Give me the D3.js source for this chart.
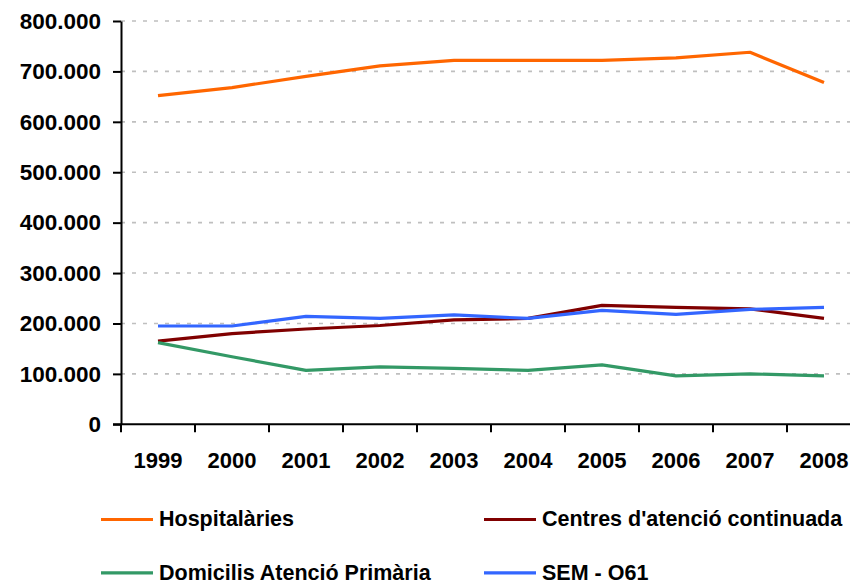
<!DOCTYPE html>
<html>
<head>
<meta charset="utf-8">
<script src="https://cdn.jsdelivr.net/npm/d3@7"></script>
<style>
  html, body { margin: 0; padding: 0; background: #fff; }
  svg { display: block; }
  text { font-family: Arial, "Liberation Sans", sans-serif; font-weight: bold; fill: #000; }
</style>
</head>
<body>
<svg id="chart" width="850" height="584"></svg>
<script>
// ---- Data ----
const years = ["1999","2000","2001","2002","2003","2004","2005","2006","2007","2008"];
const hospitalaries = [652000, 668000, 690000, 711000, 722000, 722000, 722000, 727000, 738000, 678000];
const centres       = [165000, 180000, 189000, 196000, 207000, 210000, 236000, 232000, 229000, 210000];
const domicilis     = [162000, 134000, 107000, 114000, 111000, 107000, 118000, 96000, 100000, 96000];
const sem061        = [195000, 195000, 214000, 210000, 217000, 210000, 226000, 218000, 228000, 232000];
const yTicks = [0, 100000, 200000, 300000, 400000, 500000, 600000, 700000, 800000];

const seriesNames  = ["Hospitalàries", "Centres d'atenció continuada", "Domicilis Atenció Primària", "SEM - O61"];
const seriesValues = [hospitalaries, centres, domicilis, sem061];
const seriesColors = ["#FF6600", "#800000", "#339966", "#3366FF"];

const series = seriesNames.map((name, i) => ({ name, values: seriesValues[i], color: seriesColors[i] }));

// ---- Layout ----
const svg = d3.select("#chart");
const plotLeft = 121, plotRight = 861, plotTop = 21, plotBottom = 424.3;

const x = d3.scaleBand().domain(years).range([plotLeft, plotRight]).padding(0);
const y = d3.scaleLinear().domain([0, 800000]).range([plotBottom, plotTop]);

const locale = d3.formatLocale({ decimal: ",", thousands: ".", grouping: [3], currency: ["", ""] });
const fmt = locale.format(",.0f");

// gridlines
svg.append("g").selectAll("line")
  .data(yTicks.filter(d => d > 0))
  .join("line")
  .attr("x1", plotLeft).attr("x2", 850)
  .attr("y1", d => y(d)).attr("y2", d => y(d))
  .attr("stroke", "#BFBFBF").attr("stroke-width", 1.6)
  .attr("stroke-dasharray", "4,7");

// y axis
const yAxis = svg.append("g")
  .attr("transform", `translate(${plotLeft},0)`)
  .call(d3.axisLeft(y).tickValues(yTicks).tickFormat(fmt).tickSize(8).tickSizeOuter(0).tickPadding(12));
yAxis.select(".domain").attr("stroke", "#000").attr("stroke-width", 2);
yAxis.selectAll(".tick line").attr("stroke", "#000").attr("stroke-width", 2);
yAxis.selectAll(".tick text")
  .attr("font-size", 22.5).attr("font-weight", "bold")
  .attr("font-family", "Arial, 'Liberation Sans', sans-serif")
  .attr("fill", "#000");

// x axis line
svg.append("line")
  .attr("x1", plotLeft - 8).attr("x2", 850)
  .attr("y1", y(0)).attr("y2", y(0))
  .attr("stroke", "#000").attr("stroke-width", 2);

// x ticks at band boundaries
const boundaries = years.map(d => x(d)).concat([x(years[years.length - 1]) + x.bandwidth()]);
svg.append("g").selectAll("line")
  .data(boundaries)
  .join("line")
  .attr("x1", d => d).attr("x2", d => d)
  .attr("y1", y(0)).attr("y2", y(0) + 8)
  .attr("stroke", "#000").attr("stroke-width", 2);

// x labels
svg.append("g").selectAll("text")
  .data(years)
  .join("text")
  .attr("x", d => x(d) + x.bandwidth() / 2)
  .attr("y", 467.7)
  .attr("text-anchor", "middle")
  .attr("font-size", 22)
  .text(d => d);

// lines
const line = d3.line()
  .x((d, i) => x(years[i]) + x.bandwidth() / 2)
  .y(d => y(d));

svg.append("g").selectAll("path")
  .data(series)
  .join("path")
  .attr("d", s => line(s.values))
  .attr("fill", "none")
  .attr("stroke", s => s.color)
  .attr("stroke-width", 3.2)
  .attr("stroke-linejoin", "round");

// legend
const legendPos = [
  { lx: 101, ly: 519.5 },
  { lx: 484, ly: 519.5 },
  { lx: 101, ly: 572.8 },
  { lx: 484, ly: 572.8 }
];
const lg = svg.append("g").selectAll("g")
  .data(series)
  .join("g")
  .attr("transform", (s, i) => `translate(${legendPos[i].lx},${legendPos[i].ly})`);
lg.append("line")
  .attr("x1", 0).attr("x2", 52)
  .attr("y1", 0).attr("y2", 0)
  .attr("stroke", s => s.color)
  .attr("stroke-width", 3.2);
lg.append("text")
  .attr("x", 58)
  .attr("y", 6.8)
  .attr("font-size", 21.5)
  .text(s => s.name);
</script>
</body>
</html>
